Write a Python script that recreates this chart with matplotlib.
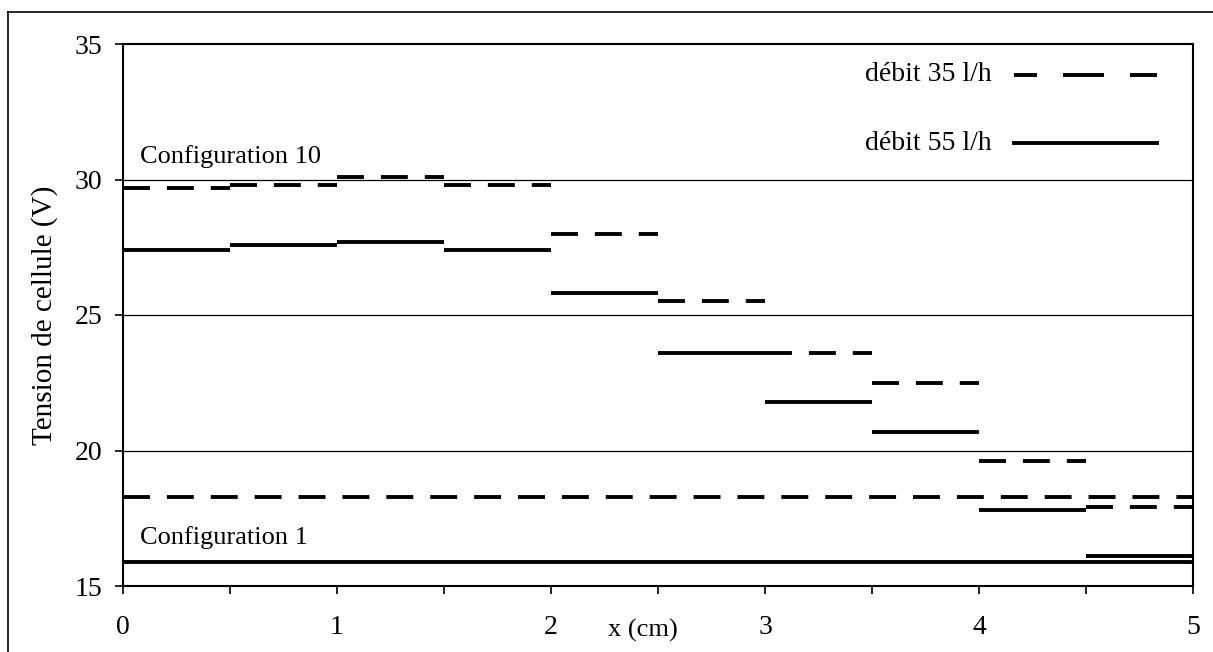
import numpy as np
import matplotlib
matplotlib.use("Agg")
import matplotlib.pyplot as plt
from matplotlib.lines import Line2D

# voltage per 0.5 cm section, configuration 10
x_start = [0.0, 0.5, 1.0, 1.5, 2.0, 2.5, 3.0, 3.5, 4.0, 4.5]
x_end = [0.5, 1.0, 1.5, 2.0, 2.5, 3.0, 3.5, 4.0, 4.5, 5.0]
debit35 = [29.7, 29.8, 30.1, 29.8, 28.0, 25.5, 23.6, 22.5, 19.6, 17.9]
debit55 = [27.4, 27.6, 27.7, 27.4, 25.8, 23.6, 21.8, 20.7, 17.8, 16.1]

# configuration 1 : one cell over the whole length
config1_35 = 18.3
config1_55 = 15.9

xticks = [0, 0.5, 1, 1.5, 2, 2.5, 3, 3.5, 4, 4.5, 5]
xticklabels = ['0', '', '1', '', '2', '', '3', '', '4', '', '5']
yticks = [15, 20, 25, 30, 35]

plt.rcParams['font.family'] = ['Liberation Serif', 'DejaVu Serif']
plt.rcParams['lines.scale_dashes'] = False

W, H = 1213, 652
fig = plt.figure(figsize=(W / 100, H / 100), dpi=100)
ax = fig.add_axes([123 / W, 1 - 586 / H, 1070 / W, 542 / H])

lw = 2.8
dash = (0, (19.4, 12.2))

for y in [20, 25, 30]:
    ax.axhline(y, color='black', lw=0.9, zorder=1)

ax.hlines(debit35, x_start, x_end, colors='black', linestyles=[dash], lw=lw, zorder=3)
ax.hlines(debit55, x_start, x_end, colors='black', linestyles='solid', lw=lw, zorder=3)
ax.hlines(config1_35, 0, 5, colors='black', linestyles=[dash], lw=lw, zorder=3)
ax.hlines(config1_55, 0, 5, colors='black', linestyles='solid', lw=lw, zorder=3)

ax.set_xlim(0, 5)
ax.set_ylim(15, 35)
ax.set_xticks(xticks)
ax.set_xticklabels(xticklabels)
ax.set_yticks(yticks)
ax.tick_params(axis='x', direction='out', length=6, width=1.2, pad=15, labelsize=20)
ax.tick_params(axis='y', direction='out', length=6, width=1.2, pad=9, labelsize=20)
for s in ax.spines.values():
    s.set_linewidth(1.5)

ax.set_ylabel('Tension de cellule (V)', fontsize=21, labelpad=12)
ax.text(2.43, -0.082, 'x (cm)', transform=ax.get_xaxis_transform(),
        fontsize=19, ha='center', va='center')

ax.text(0.08, 30.85, 'Configuration 10', fontsize=19, ha='left', va='center')
ax.text(0.08, 16.8, 'Configuration 1', fontsize=19, ha='left', va='center')

# legend drawn by hand, text left of the line sample
leg = [('débit 35 l/h', (18 * 0.72, (41 * 0.72, 26 * 0.72)), 0.943),
       ('débit 55 l/h', 'solid', 0.817)]
for label, ls, yy in leg:
    ax.text(0.812, yy, label, transform=ax.transAxes, fontsize=20,
            ha='right', va='center')
    ax.add_line(Line2D([0.833, 0.966], [yy, yy], transform=ax.transAxes,
                       color='black', lw=lw, linestyle=ls, clip_on=False))

# outer chart border (left and top visible)
fig.add_artist(Line2D([8 / W, 8 / W], [0, 1 - 12 / H], color='black', lw=1.2))
fig.add_artist(Line2D([8 / W, 1], [1 - 12 / H, 1 - 12 / H], color='black', lw=1.2))

fig.savefig('out.png', dpi=100)
